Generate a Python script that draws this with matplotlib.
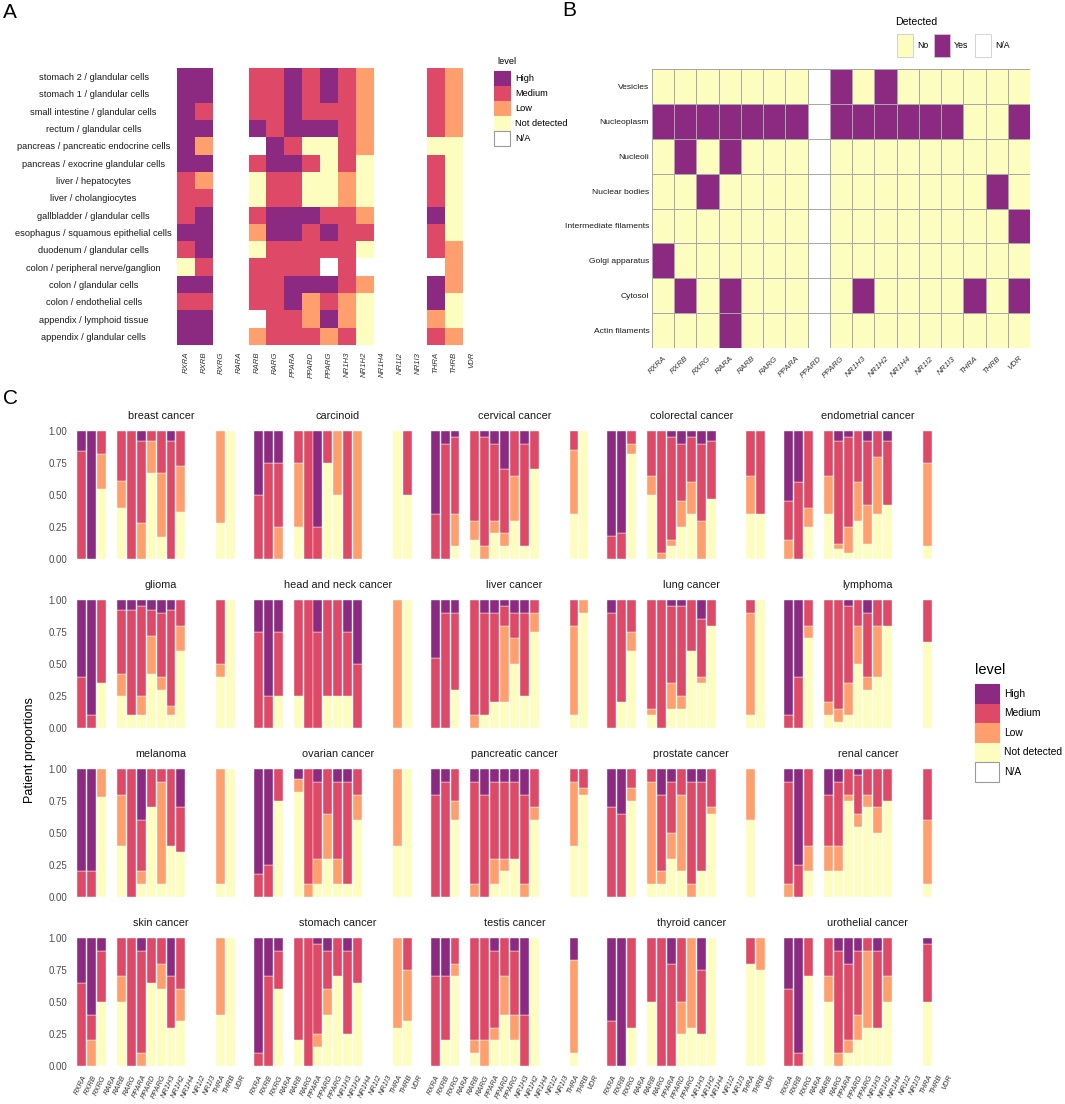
import numpy as np
import matplotlib
matplotlib.use("Agg")
import matplotlib.pyplot as plt
from matplotlib.colors import ListedColormap
from matplotlib.patches import Rectangle

plt.rcParams['font.family'] = ['Liberation Sans', 'DejaVu Sans']

W, H = 1065, 1104

genes = ['RXRA', 'RXRB', 'RXRG', 'RARA', 'RARB', 'RARG', 'PPARA', 'PPARD', 'PPARG',
         'NR1H3', 'NR1H2', 'NR1H4', 'NR1I2', 'NR1I3', 'THRA', 'THRB', 'VDR']
levels = ['High', 'Medium', 'Low', 'Not detected']
level_colors = ['#8C2981', '#DE4968', '#FE9F6D', '#FCFDBF']

# panel A: tissue staining level, one letter per gene (H/M/L/N, '-' = N/A)
tissues = ['stomach 2 / glandular cells', 'stomach 1 / glandular cells',
           'small intestine / glandular cells', 'rectum / glandular cells',
           'pancreas / pancreatic endocrine cells', 'pancreas / exocrine glandular cells',
           'liver / hepatocytes', 'liver / cholangiocytes', 'gallbladder / glandular cells',
           'esophagus / squamous epithelial cells', 'duodenum / glandular cells',
           'colon / peripheral nerve/ganglion', 'colon / glandular cells',
           'colon / endothelial cells', 'appendix / lymphoid tissue',
           'appendix / glandular cells']
tissue_levels = ['HH--MMHMHML---ML-', 'HH--MMHMHML---ML-', 'HM--MMHMMML---ML-',
                 'HH--HMHHHML---ML-', 'HL---HMNNML---NN-', 'HH--MHHMNMN---MN-',
                 'ML--NMMNNLN---MN-', 'MM--NMMNNLN---MN-', 'MH--MHHHMML---HN-',
                 'HH--LHHMHMM---MN-', 'MH--NMMMMMN---ML-', 'NM--MMMM-M-----L-',
                 'HH--MMHHHML---HL-', 'MM--MMHLMLN---HN-', 'HH---MMLHLN---LN-',
                 'HH--LMMMLMN---ML-']

# panel B: subcellular location detected (Y/N, '-' = N/A)
locations = ['Vesicles', 'Nucleoplasm', 'Nucleoli', 'Nuclear bodies',
             'Intermediate filaments', 'Golgi apparatus', 'Cytosol', 'Actin filaments']
location_detected = ['NNNNNNN-YNYNNNNNN', 'YYYYYYY-YYYYYYNNY', 'NYNYNNN-NNNNNNNNN',
                     'NNYNNNN-NNNNNNNYN', 'NNNNNNN-NNNNNNNNY', 'YNNNNNN-NNNNNNNNN',
                     'NYNYNNN-NYNNNNYNY', 'NNNYNNN-NNNNNNNNN']

# panel C: patient proportions (High, Medium, Low, Not detected) per gene, None = N/A
cancers = ['breast cancer', 'carcinoid', 'cervical cancer', 'colorectal cancer',
           'endometrial cancer', 'glioma', 'head and neck cancer', 'liver cancer',
           'lung cancer', 'lymphoma', 'melanoma', 'ovarian cancer', 'pancreatic cancer',
           'prostate cancer', 'renal cancer', 'skin cancer', 'stomach cancer',
           'testis cancer', 'thyroid cancer', 'urothelial cancer']

breast = [(.16, .84, 0, 0), (1, 0, 0, 0), (0, .18, .27, .55), None, (0, .39, .21, .40),
          (0, 1, 0, 0), (.08, .64, .28, 0), (0, .08, .25, .67), (0, .33, .50, .17),
          (.08, .92, 0, 0), (0, .27, .36, .37), None, None, None, (0, 0, .72, .28),
          (0, 0, 0, 1), None]
carcinoid = [(.5, .5, 0, 0), (.25, .75, 0, 0), (.25, .5, .25, 0), None, (0, .25, .5, .25),
             (0, 1, 0, 0), (.75, .25, 0, 0), (0, .25, 0, .75), (0, 0, .5, .5),
             (0, 1, 0, 0), (0, 0, 1, 0), None, None, None, (0, 0, 0, 1),
             (0, .5, 0, .5), None]
cervical = [(.65, .35, 0, 0), (.1, .9, 0, 0), (.05, .6, .25, .1), None, (0, .7, .15, .15),
            (.05, .85, .1, 0), (.1, .6, .1, .2), (.3, .5, .1, .1), (0, .35, .35, .3),
            (.1, .8, 0, .1), (0, .3, 0, .7), None, None, None, (0, .15, .5, .35),
            (0, 0, 0, 1), None]
colorectal = [(.82, .18, 0, 0), (.8, .2, 0, 0), (0, .1, .08, .82), None, (0, .35, .15, .5),
              (0, .95, .05, 0), (.05, .8, .05, .1), (.1, .45, .2, .25), (.05, .35, .25, .35),
              (.1, .6, .3, 0), (.08, .45, 0, .47), None, None, None, (0, .35, .3, .35),
              (0, .65, 0, .35), None]
endometrial = [(.55, .3, .15, 0), (.4, .6, 0, 0), (0, .6, .15, .25), None, (0, .35, .3, .35),
               (.08, .8, .04, .08), (.05, .7, .2, .05), (0, .4, .3, .3), (.08, .5, .3, .12),
               (0, .2, .45, .35), (.08, .5, 0, .42), None, None, None, (0, .25, .65, .1),
               None, None]
glioma = [(.6, .4, 0, 0), (.9, .1, 0, 0), (0, .65, 0, .35), None, (.08, .5, .17, .25),
          (.08, .82, 0, .1), (.05, .7, .15, .1), (.08, .2, .3, .42), (.1, .5, .1, .3),
          (.08, .75, .07, .1), (0, .2, .2, .6), None, None, None, (0, .5, .1, .4),
          (0, 0, 0, 1), None]
headneck = [(.25, .75, 0, 0), (.75, .25, 0, 0), (.25, .5, 0, .25), None, (0, .75, 0, .25),
            (0, 1, 0, 0), (.25, .75, 0, 0), (0, .75, 0, .25), (0, .75, 0, .25),
            (.25, .5, 0, .25), (.5, .5, 0, 0), None, None, None, (0, 0, 1, 0),
            (0, 0, 0, 1), None]
liver = [(.45, .55, 0, 0), (.1, .9, 0, 0), (.1, .6, 0, .3), None, (0, .9, .1, 0),
         (.1, .8, 0, .1), (.1, .7, .0, .2), (.05, .15, .6, .2), (.1, .2, .2, .5),
         (.1, .65, .0, .25), (0, .1, .15, .75), None, None, None, (0, .2, .7, .1),
         (0, 0, .1, .9), None]
lung = [(.1, .9, 0, 0), (.0, .8, .0, .2), (0, .25, .15, .6), None, (0, .85, .05, .1),
        (0, 1, 0, 0), (.05, .6, .2, .15), (.05, .7, .1, .15), (0, .4, .0, .6),
        (.15, .45, .05, .35), (0, .2, .0, .8), None, None, None, (0, .1, .8, .1),
        (0, 0, 0, 1), None]
lymphoma = [(.9, .1, 0, 0), (.6, .4, 0, 0), (0, .2, .1, .7), None, (0, .8, .1, .1),
            (0, .85, .1, .05), (.05, .6, .25, .1), (0, .2, .3, .5), (.1, .5, .1, .3),
            (0, .2, .4, .4), (0, .2, .0, .8), None, None, None, (0, .33, .0, .67),
            None, None]
melanoma = [(.8, .2, 0, 0), (.8, .2, 0, 0), (0, 0, .22, .78), None, (0, .2, .4, .4),
            (0, 1, 0, 0), (.4, .4, .1, .1), (0, .3, .0, .7), (0, .1, .8, .1),
            (0, .6, .0, .4), (.3, .35, .0, .35), None, None, None, (0, 0, .9, .1),
            (0, 0, 0, 1), None]
ovarian = [(.82, .18, 0, 0), (.75, .25, 0, 0), (0, .25, 0, .75), None, (.08, .0, .1, .82),
           (0, .9, .1, 0), (.1, .6, .2, .1), (0, .35, .35, .3), (.1, .6, .2, .1),
           (.1, .8, 0, .1), (0, .2, .2, .6), None, None, None, (0, 0, .6, .4),
           (0, 0, 0, 1), None]
pancreatic = [(.2, .8, 0, 0), (.1, .9, 0, 0), (0, .25, .15, .6), None, (.1, .8, .1, 0),
              (.2, .8, 0, 0), (.1, .6, .2, .1), (.1, .6, .1, .2), (.1, .6, .0, .3),
              (.2, .7, .1, 0), (0, .3, .1, .6), None, None, None, (0, .1, .5, .4),
              (0, .15, .05, .8), None]
prostate = [(.3, .7, 0, 0), (.35, .65, 0, 0), (0, .15, .1, .75), None, (0, .1, .8, .1),
            (.2, .6, .1, .1), (.1, .4, .2, .3), (0, .2, .6, .2), (.1, .8, .1, 0),
            (.1, .7, 0, .2), (0, .3, .05, .65), None, None, None, (0, 0, .4, .6),
            None, None]
renal = [(.1, .8, .1, 0), (.75, .25, 0, 0), (0, .6, .2, .2), None, (.2, .4, .2, .2),
         (.1, .5, .2, .2), (0, .2, .05, .75), (.05, .3, .1, .55), (0, .2, .1, .7),
         (0, .3, .2, .5), (0, .25, 0, .75), None, None, None, (0, .4, .5, .1),
         None, None]
skin = [(.35, .65, 0, 0), (.6, .2, .2, 0), (.1, .4, .0, .5), None, (0, .3, .2, .5),
        (0, 1, 0, 0), (.1, .8, .1, 0), (0, .35, .0, .65), (0, .2, .2, .6),
        (.3, .4, 0, .3), (0, .4, .25, .35), None, None, None, (0, 0, .6, .4),
        (0, 0, 0, 1), None]
stomach = [(.9, .1, 0, 0), (.3, .7, 0, 0), (.1, .3, 0, .6), None, (0, .8, .0, .2),
           (0, 1, 0, 0), (.05, .7, .1, .15), (.1, .3, .2, .4), (0, .3, .0, .7),
           (.1, .65, 0, .25), (0, .35, .0, .65), None, None, None, (0, 0, .7, .3),
           (0, .25, .4, .35), None]
testis = [(.3, .7, 0, 0), (.3, .5, 0, .2), (0, .2, .1, .7), None, (0, .8, .1, .1),
          (0, .8, .2, 0), (.1, .6, .1, .2), (0, .3, .3, .4), (.1, .5, .2, .2),
          (.6, .4, 0, 0), (0, 0, 0, 1), None, None, None, (.17, .0, .73, .1),
          None, None]
thyroid = [(.65, .35, 0, 0), (1, 0, 0, 0), (0, .7, 0, .3), None, (0, .5, 0, .5),
           (0, 1, 0, 0), (.2, .8, 0, 0), (0, .5, .25, .25), (0, 0, .7, .3),
           (.25, .5, 0, .25), (0, 0, 0, 1), None, None, None, (0, .2, 0, .8),
           (0, 0, .25, .75), None]
urothelial = [(.4, .6, 0, 0), (.9, .1, 0, 0), (0, .3, 0, .7), None, (0, .3, .2, .5),
              (.1, .8, .1, 0), (.2, .6, .1, .1), (.1, .5, .2, .2), (0, .1, .6, .3),
              (.1, .6, 0, .3), (0, .3, .2, .5), None, None, None, (.05, .45, .0, .5),
              None, None]
cancer_data = [breast, carcinoid, cervical, colorectal, endometrial, glioma, headneck,
               liver, lung, lymphoma, melanoma, ovarian, pancreatic, prostate, renal,
               skin, stomach, testis, thyroid, urothelial]


def box(x0, y0, x1, y1):
    return [x0 / W, 1 - y1 / H, (x1 - x0) / W, (y1 - y0) / H]


fig = plt.figure(figsize=(W / 100, H / 100), dpi=100)
over = fig.add_axes([0, 0, 1, 1], zorder=-1)
over.set_xlim(0, W)
over.set_ylim(H, 0)
over.axis('off')

# ---------------- panel A ----------------
code = {'H': 0, 'M': 1, 'L': 2, 'N': 3, '-': np.nan}
grid_a = np.array([[code[ch] for ch in row] for row in tissue_levels])
cmap = ListedColormap(level_colors)
cmap.set_bad('white')
axa = fig.add_axes(box(177, 68, 481, 345))
axa.pcolormesh(np.ma.masked_invalid(grid_a), cmap=cmap, vmin=-0.5, vmax=3.5)
axa.set_xlim(0, len(genes))
axa.set_ylim(len(tissues), 0)
axa.set_xticks(np.arange(len(genes)) + 0.5)
axa.set_xticklabels(genes, rotation=90, style='italic', fontsize=5.6, color='#333333',
                    ha='center', va='top')
axa.set_yticks(np.arange(len(tissues)) + 0.5)
axa.set_yticklabels(tissues, fontsize=6.7, ha='center', color='#1A1A1A')
axa.tick_params(axis='y', length=0, pad=60)
axa.tick_params(axis='x', length=0, pad=5)
for s in axa.spines.values():
    s.set_visible(False)

over.text(497, 62, 'level', fontsize=6.7, va='center', ha='left')
for i, (lab, col) in enumerate(zip(levels + ['N/A'], level_colors + ['white'])):
    y0 = 71 + i * 15
    over.add_patch(Rectangle((494, y0), 16, 15, facecolor=col,
                             edgecolor='#9A9A9A' if lab == 'N/A' else col, lw=0.8))
    over.text(515, y0 + 7.5, lab, fontsize=6.7, va='center', ha='left')

# ---------------- panel B ----------------
ycode = {'Y': 1, 'N': 0, '-': np.nan}
grid_b = np.array([[ycode[ch] for ch in row] for row in location_detected])
cmap_b = ListedColormap(['#FCFDBF', '#8C2981'])
cmap_b.set_bad('white')
axb = fig.add_axes(box(652, 69, 1030, 348))
axb.pcolormesh(np.ma.masked_invalid(grid_b), cmap=cmap_b, vmin=-0.5, vmax=1.5,
               edgecolors='#A8A8A8', linewidth=0.7)
axb.set_xlim(0, len(genes))
axb.set_ylim(len(locations), 0)
axb.set_xticks(np.arange(len(genes)) + 0.5)
axb.set_xticklabels(genes, rotation=45, fontsize=5.8, color='#333333', ha='right',
                    va='top', rotation_mode='anchor', style='italic')
axb.set_yticks(np.arange(len(locations)) + 0.5)
axb.set_yticklabels(locations, fontsize=6.1, color='#1A1A1A')
axb.tick_params(length=0)
axb.tick_params(axis='y', pad=2)
axb.tick_params(axis='x', pad=5)
for s in axb.spines.values():
    s.set_visible(False)

over.text(895, 22, 'Detected', fontsize=7.6, va='center', ha='left')
for lab, col, x0 in [('No', '#FCFDBF', 897), ('Yes', '#8C2981', 934), ('N/A', 'white', 975)]:
    over.add_patch(Rectangle((x0, 34), 16, 23, facecolor=col, edgecolor='#CCCCCC', lw=0.6))
    over.text(x0 + 20, 46, lab, fontsize=6.3, va='center', ha='left')

# ---------------- panel C ----------------
x = np.arange(1, len(genes) + 1)
for k, (name, data) in enumerate(zip(cancers, cancer_data)):
    r, c = divmod(k, 5)
    left = 75.8 + c * 176.7
    top = 431 + r * 169
    ax = fig.add_axes(box(left, top - 6.4, left + 170.6, top + 128 + 6.4))
    for j, vals in enumerate(data):
        if vals is None:
            continue
        bottom = 0.0
        for v, col in zip(vals[::-1], level_colors[::-1]):
            if v > 0:
                ax.bar(x[j], v, bottom=bottom, width=0.9, color=col, edgecolor='white',
                       linewidth=0.3)
            bottom += v
    ax.set_xlim(0.4, len(genes) + 0.6)
    ax.set_ylim(-0.05, 1.05)
    ax.set_title(name, fontsize=7.8, pad=4, color='#1A1A1A')
    for s in ax.spines.values():
        s.set_visible(False)
    ax.tick_params(length=0)
    ax.set_yticks([0, 0.25, 0.5, 0.75, 1.0])
    if c == 0:
        ax.set_yticklabels(['0.00', '0.25', '0.50', '0.75', '1.00'], fontsize=7,
                           color='#4D4D4D')
        ax.tick_params(axis='y', pad=6)
    else:
        ax.set_yticklabels([])
    ax.set_xticks(x)
    if r == 3:
        ax.set_xticklabels(genes, rotation=65, style='italic', fontsize=5.4,
                           color='#333333', ha='right', va='top', rotation_mode='anchor')
        ax.tick_params(axis='x', pad=1)
    else:
        ax.set_xticklabels([])

over.text(30, 750, 'Patient proportions', fontsize=9, rotation=90, ha='center',
          va='center')

over.text(975, 670, 'level', fontsize=10.5, va='center', ha='left')
for i, (lab, col) in enumerate(zip(levels + ['N/A'], level_colors + ['white'])):
    y0 = 684 + i * 19.5
    over.add_patch(Rectangle((975, y0), 24, 19.5, facecolor=col,
                             edgecolor='#9A9A9A' if lab == 'N/A' else col, lw=0.8))
    over.text(1004, y0 + 9.75, lab, fontsize=7.4, va='center', ha='left')

over.text(3, 12, 'A', fontsize=15, va='center', ha='left')
over.text(562, 11, 'B', fontsize=15, va='center', ha='left')
over.text(3, 399, 'C', fontsize=15, va='center', ha='left')

fig.savefig('out.png', dpi=100)
